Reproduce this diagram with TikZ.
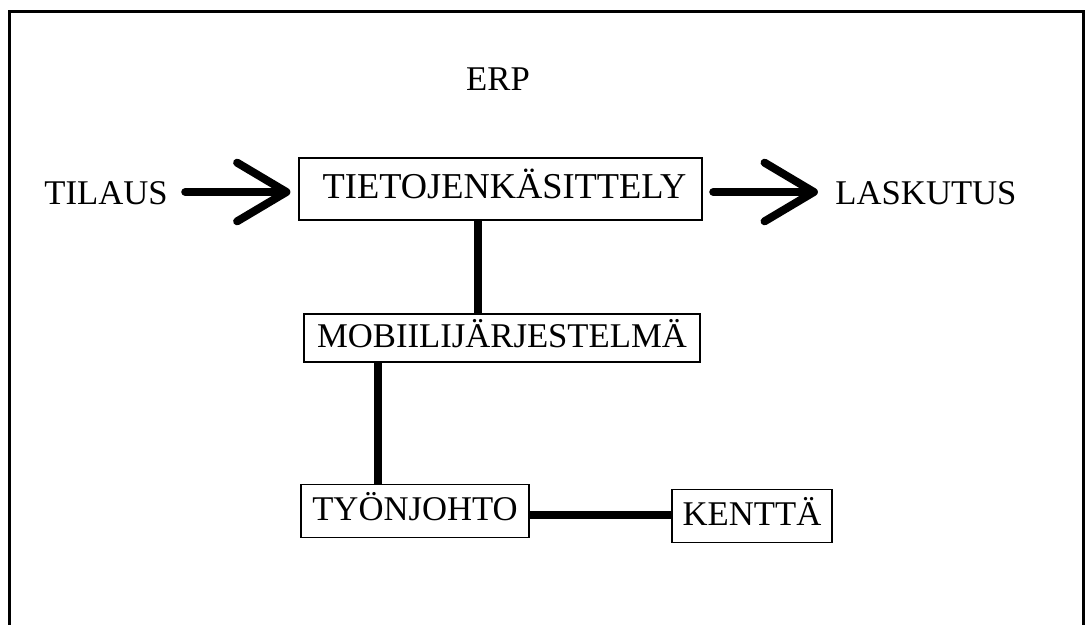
\documentclass[tikz,border=0pt]{standalone}
\usepackage{fontspec}
\setmainfont{Liberation Serif}
\usetikzlibrary{arrows.meta}
\begin{document}
\begin{tikzpicture}[x=0.75pt,y=-0.75pt,
  every node/.style={font=\fontsize{26}{30}\selectfont},
  lbl/.style={inner sep=0pt},
  box/.style={draw,line width=1.1pt,inner sep=0pt,text height=19pt,text depth=5.5pt},
  conn/.style={line width=6.5pt},
  arr/.style={line width=6pt,line cap=round,-{Straight Barb[length=37pt,width=44pt,round]}},
  frame/.style={line width=2.25pt}]
\useasboundingbox (0,0) rectangle (1087,624);
\clip (0,0) rectangle (1087,624);
\fill[white] (0,0) rectangle (1087,624);
\draw[frame] (9,12) rectangle (1083,700);

\node[lbl,anchor=base] (erp) at (498,91) {ERP};
\node[lbl,anchor=base] (tilaus) at (106,204) {TILAUS};
\node[lbl,anchor=base] (laskutus) at (926,204) {LASKUTUS};

\node[box,font=\fontsize{27.3}{31}\selectfont,minimum width=302pt,minimum height=46.5pt] (tk) at (500.5,189) {\hspace*{6pt}TIETOJENKÄSITTELY};
\node[box,minimum width=297pt,minimum height=36pt] (mob) at (502,338) {MOBIILIJÄRJESTELMÄ};
\node[box,minimum width=171pt,minimum height=40pt] (tyo) at (415,511) {TYÖNJOHTO};
\node[box,minimum width=120pt,minimum height=40pt] (ken) at (752,516) {KENTTÄ};

\coordinate (ay) at (0,192);
\coordinate (x1) at (478,0);
\coordinate (x2) at (378,0);
\coordinate (y3) at (0,515);

\draw[arr,shorten <=13pt,shorten >=6pt] (tilaus.east |- ay) -- (tk.west |- ay);
\draw[arr,shorten <=8pt,shorten >=13pt] (tk.east |- ay) -- (laskutus.west |- ay);

\draw[conn] (x1 |- tk.south) -- (x1 |- mob.north);
\draw[conn] (x2 |- mob.south) -- (x2 |- tyo.north);
\draw[conn] (tyo.east |- y3) -- (ken.west |- y3);
\end{tikzpicture}
\end{document}
